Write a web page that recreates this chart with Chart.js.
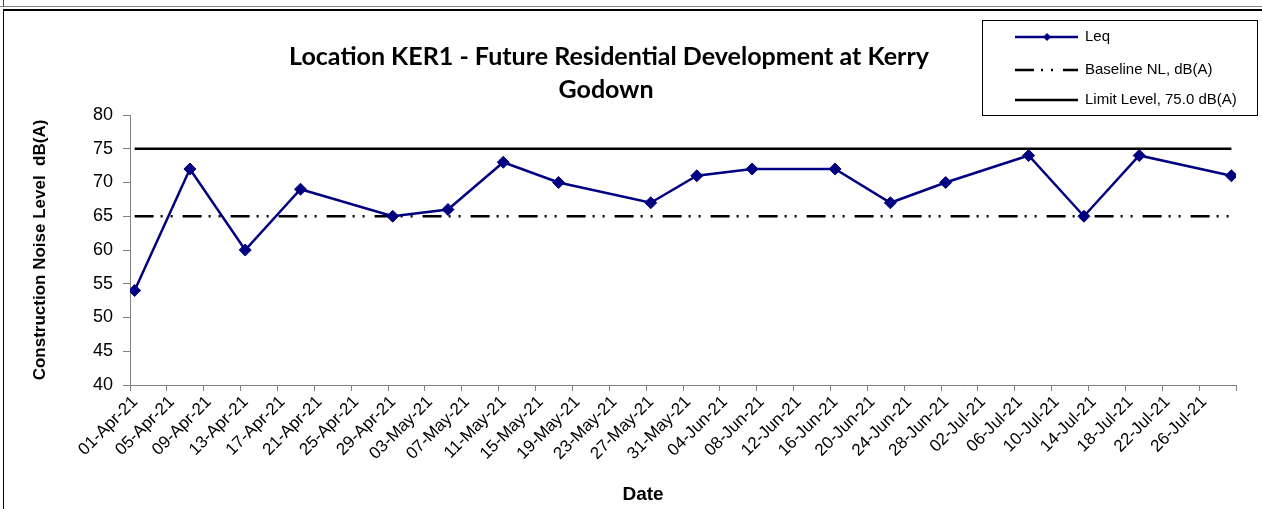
<!DOCTYPE html>
<html>
<head>
<meta charset="utf-8">
<title>Location KER1 - Construction Noise Level</title>
<script src="https://cdn.jsdelivr.net/npm/chart.js@4.4.0/dist/chart.umd.min.js"></script>
<style>
  html, body { margin: 0; padding: 0; background: #fff; }
  #wrap { position: relative; width: 1262px; height: 509px; overflow: hidden; }
  #wrap canvas { position: absolute; left: 0; top: 0; }
  .frame { position: absolute; pointer-events: none; }
  #frameTopThin { left: 0; top: 6px; width: 1262px; height: 1px; background: #888; }
  #frameStub { left: 3px; top: 0; width: 1px; height: 7px; background: #444; }
  #frameMain { left: 3px; top: 9px; width: 1262px; height: 520px; border-top: 2px solid #000; border-left: 1px solid #000; }
</style>
</head>
<body>
<div id="wrap">
  <canvas id="noiseChart" width="1262" height="509"></canvas>
  <div class="frame" id="frameTopThin"></div>
  <div class="frame" id="frameStub"></div>
  <div class="frame" id="frameMain"></div>
</div>
<script>
// Monitoring dates and measured Leq, dB(A)
const dates = ['2021-04-01', '2021-04-07', '2021-04-13', '2021-04-19', '2021-04-29', '2021-05-05',
               '2021-05-11', '2021-05-17', '2021-05-27', '2021-06-01', '2021-06-07', '2021-06-16',
               '2021-06-22', '2021-06-28', '2021-07-07', '2021-07-13', '2021-07-19', '2021-07-29'];
const leq = [54, 72, 60, 69, 65, 66, 73, 70, 67, 71, 72, 72, 67, 70, 74, 65, 74, 71];
const baselineNL = [65, 65, 65, 65, 65, 65, 65, 65, 65, 65, 65, 65, 65, 65, 65, 65, 65, 65];
const limitLevel = [75, 75, 75, 75, 75, 75, 75, 75, 75, 75, 75, 75, 75, 75, 75, 75, 75, 75];

// Date axis: 01-Apr-21 to 30-Jul-21, one label every 4 days
const axisStart = '2021-04-01';
const axisDays = 120;
const tickStepDays = 4;
const tickLabels = ['01-Apr-21', '05-Apr-21', '09-Apr-21', '13-Apr-21', '17-Apr-21', '21-Apr-21',
                    '25-Apr-21', '29-Apr-21', '03-May-21', '07-May-21', '11-May-21', '15-May-21',
                    '19-May-21', '23-May-21', '27-May-21', '31-May-21', '04-Jun-21', '08-Jun-21',
                    '12-Jun-21', '16-Jun-21', '20-Jun-21', '24-Jun-21', '28-Jun-21', '02-Jul-21',
                    '06-Jul-21', '10-Jul-21', '14-Jul-21', '18-Jul-21', '22-Jul-21', '26-Jul-21'];
const yTicks = { min: 40, max: 80, step: 5 };

const titleLines = ['Location KER1 - Future Residential Development at Kerry', 'Godown'];

const ARIAL = 'Arial, "Liberation Sans", sans-serif';

// days since axis start, centred in the day (Excel date axis)
function dayPos(d) {
    const t = Date.parse(d + 'T00:00:00Z');
    const s = Date.parse(axisStart + 'T00:00:00Z');
    return (t - s) / 86400000 + 0.5;
}
function toPoints(values) {
    return values.map((v, i) => ({ x: dayPos(dates[i]), y: v }));
}

// title, legend and x axis title drawn like the Excel chart
const excelDecor = {
    id: 'excelDecor',
    afterDraw(chart) {
        const ctx = chart.ctx;
        ctx.save();
        ctx.fillStyle = '#000';

        // title, fitted to the width of the original first line
        let size = 24;
        ctx.font = 'bold ' + size + 'px Lato, "Open Sans", sans-serif';
        const w = ctx.measureText(titleLines[0]).width;
        size = size * 640 / w;
        ctx.font = 'bold ' + size.toFixed(2) + 'px Lato, "Open Sans", sans-serif';
        ctx.textAlign = 'center';
        ctx.textBaseline = 'alphabetic';
        ctx.fillText(titleLines[0], 609, 65);
        ctx.fillText(titleLines[1], 606, 98);

        // x axis title
        ctx.font = 'bold 19px ' + ARIAL;
        ctx.textBaseline = 'middle';
        ctx.fillText('Date', 643, 495);

        // legend box
        ctx.lineWidth = 1;
        ctx.strokeStyle = '#000';
        ctx.strokeRect(982.5, 20.5, 275, 95);
        const rows = [37, 70, 100];
        ctx.font = '15px ' + ARIAL;
        ctx.textAlign = 'left';
        chart.data.datasets.forEach((ds, i) => {
            const y = rows[i];
            ctx.beginPath();
            ctx.strokeStyle = ds.borderColor;
            ctx.lineWidth = 2.5;
            ctx.setLineDash(ds.borderDash || []);
            ctx.moveTo(1015, y);
            ctx.lineTo(1078, y);
            ctx.stroke();
            ctx.setLineDash([]);
            if (ds.pointRadius > 0) {
                ctx.fillStyle = ds.pointBackgroundColor;
                ctx.beginPath();
                ctx.moveTo(1047, y - 4);
                ctx.lineTo(1051, y);
                ctx.lineTo(1047, y + 4);
                ctx.lineTo(1043, y);
                ctx.closePath();
                ctx.fill();
            }
            ctx.fillStyle = '#000';
            ctx.fillText(ds.label, 1085, y);
        });
        ctx.restore();
    }
};

const ctx = document.getElementById('noiseChart').getContext('2d');
new Chart(ctx, {
    type: 'line',
    data: {
        datasets: [{
            label: 'Leq',
            data: toPoints(leq),
            borderColor: '#000080',
            backgroundColor: '#000080',
            borderWidth: 2.5,
            pointStyle: 'rectRot',
            pointRadius: 6,
            pointBackgroundColor: '#000080',
            pointBorderColor: '#000080',
            pointBorderWidth: 1,
            tension: 0
        }, {
            label: 'Baseline NL, dB(A)',
            data: toPoints(baselineNL),
            borderColor: '#000',
            borderWidth: 2.5,
            borderDash: [19, 7, 2, 8, 2, 10],
            pointRadius: 0,
            tension: 0
        }, {
            label: 'Limit Level, 75.0 dB(A)',
            data: toPoints(limitLevel),
            borderColor: '#000',
            borderWidth: 2.5,
            pointRadius: 0,
            tension: 0
        }]
    },
    options: {
        responsive: false,
        animation: false,
        layout: { padding: { left: 30, right: 26, top: 115, bottom: 0 } },
        plugins: {
            legend: { display: false },
            title: { display: false },
            tooltip: { enabled: false }
        },
        scales: {
            x: {
                type: 'linear',
                position: 'bottom',
                min: 0,
                max: axisDays,
                afterFit: (scale) => { scale.height = 124; },
                afterBuildTicks: (scale) => {
                    const t = [];
                    for (let v = 0; v <= axisDays; v += tickStepDays) t.push({ value: v });
                    scale.ticks = t;
                },
                ticks: {
                    autoSkip: false,
                    maxRotation: 45,
                    minRotation: 45,
                    labelOffset: 5,
                    padding: 1,
                    color: '#000',
                    font: { size: 17, family: ARIAL },
                    callback: (v) => tickLabels[Math.round(v / tickStepDays)] || ''
                },
                grid: { drawOnChartArea: false, drawTicks: true, tickLength: 6, color: '#808080' },
                border: { color: '#808080', width: 1 }
            },
            y: {
                min: yTicks.min,
                max: yTicks.max,
                afterFit: (scale) => { scale.width = 100; },
                ticks: {
                    stepSize: yTicks.step,
                    padding: 10,
                    color: '#000',
                    font: { size: 18, family: ARIAL }
                },
                grid: { drawOnChartArea: false, drawTicks: true, tickLength: 7, color: '#808080' },
                border: { color: '#808080', width: 1 },
                title: {
                    display: true,
                    text: 'Construction Noise Level  dB(A)',
                    color: '#000',
                    padding: 0,
                    font: { size: 17, weight: 'bold', family: ARIAL }
                }
            }
        }
    },
    plugins: [excelDecor]
});
</script>
</body>
</html>
